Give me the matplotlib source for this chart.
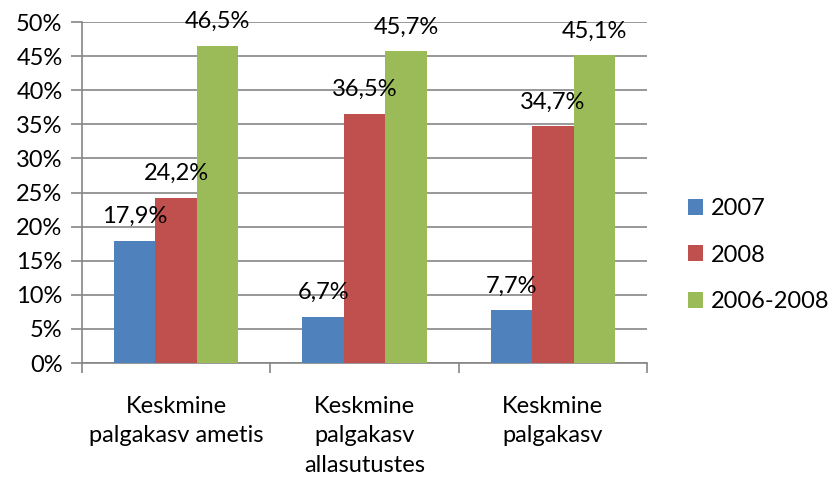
import matplotlib
matplotlib.use("Agg")
import matplotlib.pyplot as plt
import numpy as np

categories = ["Keskmine\npalgakasv ametis", "Keskmine\npalgakasv\nallasutustes", "Keskmine\npalgakasv"]
series_names = ["2007", "2008", "2006-2008"]
values_2007 = [17.9, 6.7, 7.7]
values_2008 = [24.2, 36.5, 34.7]
values_0608 = [46.5, 45.7, 45.1]
yticks = [0, 5, 10, 15, 20, 25, 30, 35, 40, 45, 50]

colors = ["#4F81BD", "#C0504D", "#9BBB59"]

plt.rcParams['font.family'] = ['Lato', 'DejaVu Sans']
fs = 17

fig = plt.figure(figsize=(8.34, 4.84), dpi=100)
ax = fig.add_axes([0.0983, 0.25, 0.6775, 0.7045])

series = [values_2007, values_2008, values_0608]
x = np.arange(len(categories))
w = 0.22
for i, (vals, col, name) in enumerate(zip(series, colors, series_names)):
    pos = x + (i - 1) * w
    ax.bar(pos, vals, width=w, color=col, label=name, zorder=3)
    for p, v in zip(pos, vals):
        ax.annotate(f"{v:.1f}".replace(".", ",") + "%", (p, v),
                    xytext=(0, 18), textcoords="offset pixels",
                    ha="center", va="baseline", fontsize=fs, color="black", zorder=4)

ax.set_xlim(-0.5, len(categories) - 0.5)
ax.set_ylim(0, 50)
ax.set_yticks(yticks)
ax.set_yticklabels([f"{t}%" for t in yticks])
ax.yaxis.grid(True, color="#868686", linewidth=1.2, zorder=0)
ax.set_xticks(np.arange(len(categories) + 1) - 0.5)
ax.set_xticklabels([])
ax.set_xticks(x, minor=True)
ax.set_xticklabels(categories, minor=True, fontsize=fs, linespacing=1.48)
ax.tick_params(axis="x", which="minor", length=0, pad=24)
ax.tick_params(axis="x", which="major", length=7, width=1.2, color="#868686", direction="out")
ax.tick_params(axis="y", length=8, width=1.2, color="#868686", labelsize=fs, pad=6)
for s in ["top", "right"]:
    ax.spines[s].set_visible(False)
for s in ["left", "bottom"]:
    ax.spines[s].set_color("#868686")
    ax.spines[s].set_linewidth(1.2)

leg = fig.legend(loc="center left", bbox_to_anchor=(0.8137, 0.473), frameon=False,
                 fontsize=fs, handlelength=0.64, handleheight=0.64,
                 labelspacing=1.08, handletextpad=0.34, borderaxespad=0)

fig.savefig("out.png", dpi=100)
